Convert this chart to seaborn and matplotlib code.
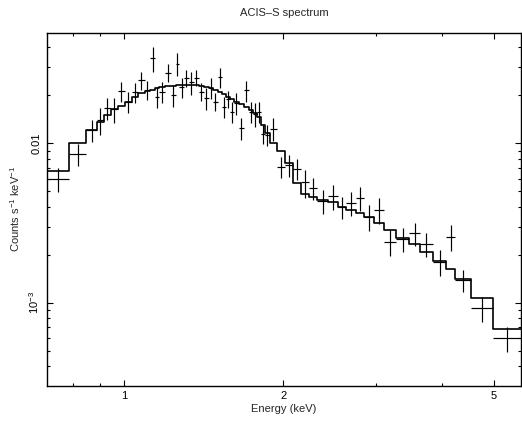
import matplotlib
matplotlib.use("Agg")
import matplotlib.pyplot as plt
from matplotlib.ticker import FixedLocator, FixedFormatter, NullFormatter
import numpy as np
import pandas as pd
import seaborn as sns

# ---- data -------------------------------------------------------------
# channel bin edges (keV)
edges = [0.715, 0.787, 0.848, 0.888, 0.915, 0.944, 0.973, 1.003, 1.034,
         1.064, 1.094, 1.121, 1.143, 1.166, 1.196, 1.225, 1.252, 1.272,
         1.297, 1.325, 1.354, 1.384, 1.415, 1.446, 1.474, 1.504, 1.530,
         1.560, 1.588, 1.616, 1.647, 1.687, 1.721, 1.751, 1.782, 1.813,
         1.849, 1.886, 1.944, 2.013, 2.084, 2.163, 2.235, 2.319, 2.432,
         2.535, 2.631, 2.748, 2.845, 2.972, 3.104, 3.270, 3.461, 3.630,
         3.833, 4.069, 4.218, 4.536, 4.984, 5.622]

# observed rate, 1e-3 counts/s/keV
rate = [5.97, 8.57, 12.11, 14.0, 16.58, 16.34, 21.29, 18.24, 20.92, 24.85,
        21.6, 34.14, 19.6, 21.07, 27.73, 20.09, 31.58, 22.48, 25.69, 24.18,
        25.8, 21.07, 19.16, 22.33, 18.24, 25.95, 16.97, 18.88, 15.78, 17.82,
        12.42, 21.44, 15.78, 15.27, 15.78, 11.44, 11.35, 12.35, 7.13, 7.31,
        6.9, 5.68, 5.22, 4.35, 4.64, 3.98, 4.24, 4.52, 3.46, 3.82,
        2.41, 2.51, 2.73, 2.34, 1.81, 2.59, 1.39, 0.922, 0.598]

# 1-sigma errors, same units
rate_err = [1.03, 1.33, 1.88, 2.65, 2.57, 2.96, 3.07, 2.83, 2.91, 3.28,
            2.83, 6.21, 3.04, 3.27, 3.63, 3.11, 5.12, 3.12, 3.15, 3.97,
            3.02, 2.72, 2.97, 3.26, 2.35, 3.61, 2.63, 2.31, 2.45, 2.76,
            1.93, 3.26, 2.45, 2.55, 2.45, 1.59, 1.67, 2.0, 1.11, 1.13,
            1.04, 1.12, 0.81, 0.75, 0.84, 0.64, 0.73, 0.78, 0.64, 0.70,
            0.44, 0.43, 0.45, 0.40, 0.33, 0.48, 0.22, 0.168, 0.109]

# folded model, same units
model = [6.70, 10.0, 12.17, 13.66, 15.05, 16.34, 17.14, 18.16, 19.44, 20.59,
         21.38, 21.75, 22.13, 22.65, 22.88, 22.98, 23.11, 23.21, 23.21, 23.21,
         23.11, 22.98, 22.65, 22.33, 21.6, 20.88, 20.24, 19.6, 18.96, 18.24,
         17.64, 16.97, 16.18, 15.56, 14.69, 13.02, 11.6, 10.04, 8.95, 7.52,
         5.63, 4.81, 4.60, 4.41, 4.28, 3.98, 3.82, 3.65, 3.45, 3.16,
         2.86, 2.55, 2.34, 2.08, 1.83, 1.63, 1.41, 1.07, 0.684]

# ---- tidy frame --------------------------------------------------------
df = pd.DataFrame({
    "elo": edges[:-1],
    "ehi": edges[1:],
    "rate": np.array(rate) * 1e-3,
    "err": np.array(rate_err) * 1e-3,
    "model": np.array(model) * 1e-3,
})
df["emid"] = (df["elo"] + df["ehi"]) / 2

step_x = edges
step_y = list(df["model"]) + [df["model"].iloc[-1]]

# ---- plot --------------------------------------------------------------
sns.set_theme(style="ticks")
plt.rcParams["font.family"] = ["Liberation Sans", "DejaVu Sans"]
plt.rcParams["mathtext.fontset"] = "custom"
plt.rcParams["mathtext.rm"] = "Liberation Sans"
plt.rcParams["mathtext.it"] = "Liberation Sans"
plt.rcParams["mathtext.default"] = "rm"

fig = plt.figure(figsize=(5.22, 4.21), dpi=100)
ax = fig.add_axes([0.090, 0.0838, 0.908, 0.8385])

sns.lineplot(x=step_x, y=step_y, drawstyle="steps-post", color="black",
             linewidth=1.2, estimator=None, sort=False, ax=ax)
ax.errorbar(df["emid"], df["rate"],
            xerr=[df["emid"] - df["elo"], df["ehi"] - df["emid"]],
            yerr=df["err"], fmt="none", ecolor="black",
            elinewidth=0.85, capsize=0)

ax.set_xscale("log")
ax.set_yscale("log")
ax.set_xlim(0.715, 5.63)
ax.set_ylim(3.015e-4, 0.0494)

ax.xaxis.set_major_locator(FixedLocator([1, 2, 5]))
ax.xaxis.set_major_formatter(FixedFormatter(["1", "2", "5"]))
ax.xaxis.set_minor_locator(FixedLocator([0.8, 0.9, 3, 4]))
ax.xaxis.set_minor_formatter(NullFormatter())

ax.yaxis.set_major_locator(FixedLocator([1e-3, 1e-2]))
ax.yaxis.set_major_formatter(FixedFormatter([r"$10^{-3}$", "0.01"]))
ax.yaxis.set_minor_locator(FixedLocator(
    [m * 1e-4 for m in range(4, 10)] + [m * 1e-3 for m in range(2, 10)]
    + [m * 1e-2 for m in range(2, 5)]))
ax.yaxis.set_minor_formatter(NullFormatter())

ax.tick_params(which="both", direction="in", top=True, right=True,
               colors="black", labelsize=8, width=0.8)
ax.tick_params(which="major", length=4.5, pad=4)
ax.tick_params(which="minor", length=2.2)
for lbl in ax.get_yticklabels():
    lbl.set_rotation(90)
    lbl.set_va("center")

for s in ax.spines.values():
    s.set_color("black")
    s.set_linewidth(1.0)

ax.set_xlabel("Energy (keV)", fontsize=8, labelpad=2)
ax.set_ylabel("Counts s$^{-1}$ keV$^{-1}$", fontsize=8, labelpad=4)
ax.set_title("ACIS–S spectrum", fontsize=8, pad=12)

fig.savefig("out.png", dpi=100)
